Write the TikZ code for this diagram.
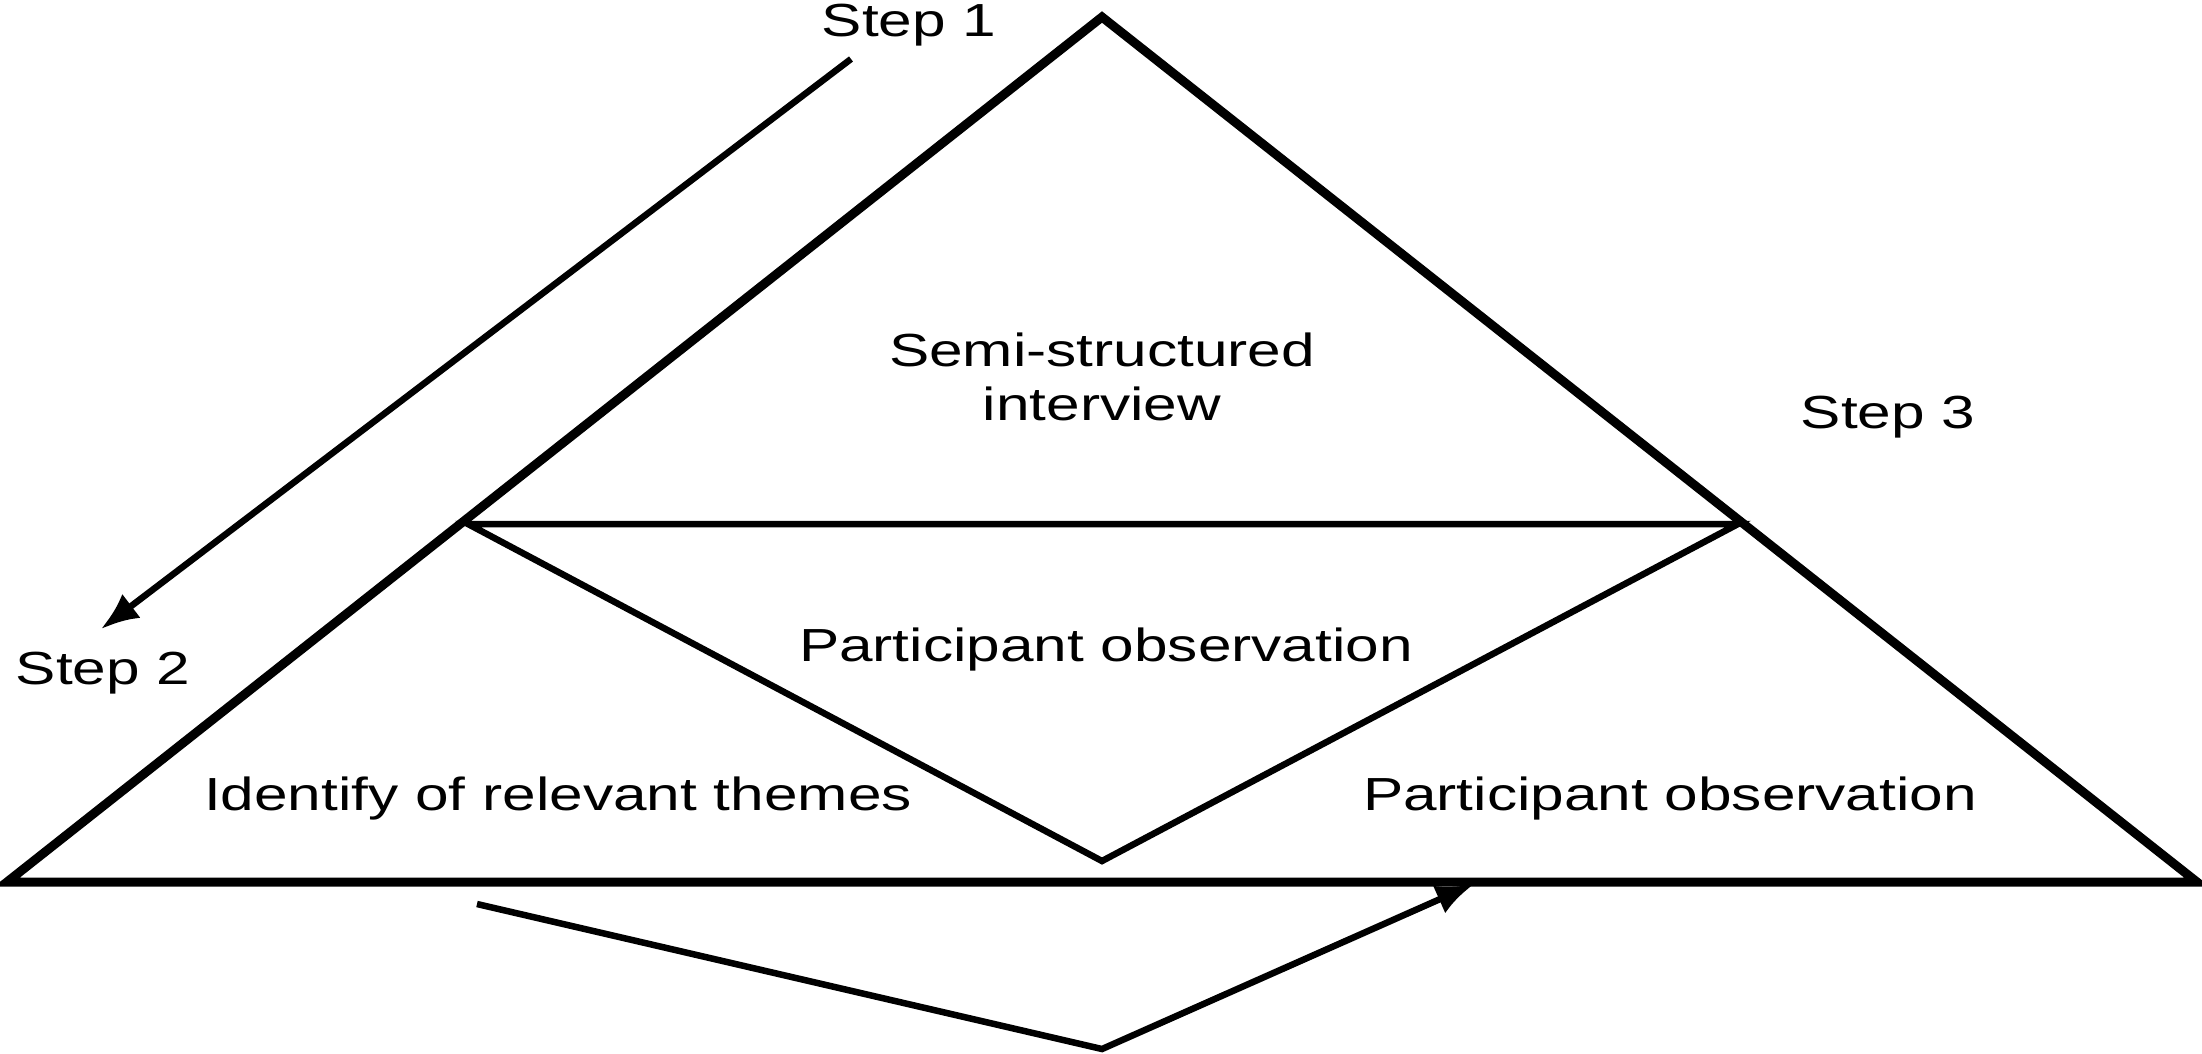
\documentclass[tikz,border=0pt]{standalone}
\usepackage{fontspec}
\setmainfont{Liberation Sans}
\usetikzlibrary{arrows.meta}

\begin{document}
\begin{tikzpicture}[x=0.01cm, y=-0.01cm,
  outer/.style={line width=0.09cm, line join=miter},
  inner/.style={line width=0.065cm, line join=miter},
  steparrow/.style={line width=0.065cm, -{Latex[length=0.38cm,width=0.3cm]}},
  lbl/.style={font=\fontsize{13.2}{15.4}\selectfont, align=center, inner sep=0pt, xscale=1.3, transform shape}]
\useasboundingbox (0,0) rectangle (2202,1053);

% big triangle
\coordinate (apex) at (1102,17);
\coordinate (bl) at (7,882);
\coordinate (br) at (2197,882);
% inner triangle
\coordinate (il) at (468,524);
\coordinate (ir) at (1738,524);
\coordinate (vb) at (1102,861);

\draw[outer] (bl) -- (apex) -- (br) -- cycle;
\draw[inner] (il) -- (ir) -- (vb) -- cycle;

% labels
\node[lbl] (semi) at (1102,377) {Semi-structured\\interview};
\node[lbl] (midobs) at (1106,649) {Participant observation};
\node[lbl] (themes) at (558,798) {Identify of relevant themes};
\node[lbl] (rightobs) at (1670,798) {Participant observation};

\node[lbl] (step1) at (909,25) {Step 1};
\node[lbl] (step2) at (103,673) {Step 2};
\node[lbl] (step3) at (1888,417) {Step 3};

% step arrows
\coordinate (s1a) at (851,59);
\coordinate (s1b) at (101,629);
\draw[steparrow] (s1a) -- (s1b);

\coordinate (b0) at (477,904);
\coordinate (b1) at (1102,1049);
\coordinate (b2) at (1474,884);
\draw[steparrow] (b0) -- (b1) -- (b2);
\end{tikzpicture}
\end{document}
